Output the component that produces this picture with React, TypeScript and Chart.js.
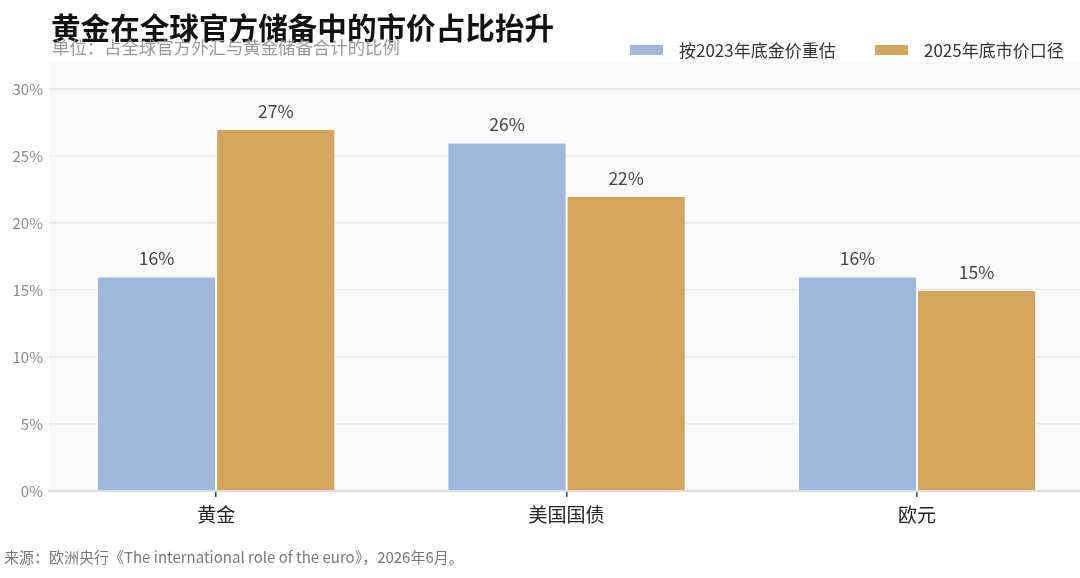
import { useEffect, useRef } from "react";
import { Chart, registerables } from "chart.js";

Chart.register(...registerables);

const categories = ["黄金", "美国国债", "欧元"];
const seriesNames = ["按2023年底金价重估", "2025年底市价口径"];
const revalued2023 = [16, 26, 16];
const market2025 = [27, 22, 15];
const yTicks = [0, 5, 10, 15, 20, 25, 30];

const BLUE = "#9fb7da";
const GOLD = "#d4a55c";
const FONT = '"Noto Sans CJK SC", "Noto Sans", sans-serif';
// edge padding of the category axis, in categories (a bit less than the usual 0.5)
const EDGE_L = 0.477;
const EDGE_R = 0.465;

const plotBg = {
  id: "plotBg",
  beforeDraw(chart: Chart) {
    const { ctx, chartArea: a } = chart;
    ctx.save();
    ctx.fillStyle = "#f9f9f9";
    ctx.fillRect(a.left, a.top, a.right - a.left, a.bottom - a.top);
    ctx.restore();
  },
};

const valueLabels = {
  id: "valueLabels",
  afterDatasetsDraw(chart: Chart) {
    const { ctx } = chart;
    ctx.save();
    ctx.font = `17.5px ${FONT}`;
    ctx.fillStyle = "#444";
    ctx.textAlign = "center";
    ctx.textBaseline = "bottom";
    chart.data.datasets.forEach((ds, i) => {
      chart.getDatasetMeta(i).data.forEach((bar: any, j) => {
        ctx.fillText(`${ds.data[j]}%`, bar.x, bar.y - 9);
      });
    });
    ctx.restore();
  },
};

export default function App() {
  const canvasRef = useRef<HTMLCanvasElement | null>(null);
  const chartRef = useRef<Chart | null>(null);

  useEffect(() => {
    if (!canvasRef.current) return;
    chartRef.current = new Chart(canvasRef.current, {
      type: "bar",
      data: {
        labels: categories,
        datasets: [
          {
            label: seriesNames[0],
            data: revalued2023,
            backgroundColor: BLUE,
            borderColor: "#ffffff",
            borderWidth: 1,
            categoryPercentage: 0.68,
            barPercentage: 1,
          },
          {
            label: seriesNames[1],
            data: market2025,
            backgroundColor: GOLD,
            borderColor: "#ffffff",
            borderWidth: 1,
            categoryPercentage: 0.68,
            barPercentage: 1,
          },
        ],
      },
      options: {
        animation: false,
        responsive: true,
        maintainAspectRatio: false,
        layout: { padding: { top: 62, right: 0, left: 0, bottom: 0 } },
        plugins: {
          legend: { display: false },
          tooltip: { enabled: false },
        },
        scales: {
          x: {
            grid: {
              display: true,
              drawOnChartArea: false,
              drawTicks: true,
              tickLength: 6,
              offset: false,
              color: "#444",
              lineWidth: 1.5,
            },
            border: { color: "#dcdcdc", width: 2 },
            ticks: { color: "#222", font: { family: FONT, size: 19 }, padding: 6 },
            afterBuildTicks: (s: any) => {
              s._startValue = -EDGE_L;
              s._valueRange = categories.length - 1 + EDGE_L + EDGE_R;
            },
            afterFit: (s: any) => {
              s.height = 87;
            },
          },
          y: {
            min: 0,
            max: 32,
            z: 1,
            ticks: {
              stepSize: 5,
              color: "#888",
              font: { family: FONT, size: 15 },
              padding: 6,
              callback: (v: any) => `${v}%`,
            },
            afterBuildTicks: (s: any) => {
              s.ticks = yTicks.map((v) => ({ value: v }));
            },
            afterFit: (s: any) => {
              s.width = 49;
            },
            grid: { color: "rgba(228,228,228,0.85)", lineWidth: 1.5, drawTicks: false },
            border: { display: false },
          },
        },
      },
      plugins: [plotBg, valueLabels],
    });
    return () => {
      chartRef.current?.destroy();
      chartRef.current = null;
    };
  }, []);

  const legendItem = (color: string, text: string, left: number, textLeft: number) => (
    <>
      <div style={{ position: "absolute", left, top: 45, width: 33, height: 10, background: color }} />
      <div style={{ position: "absolute", left: textLeft, top: 38, fontSize: 17, lineHeight: "24px", color: "#333" }}>
        {text}
      </div>
    </>
  );

  return (
    <div
      style={{
        position: "fixed",
        left: 0,
        top: 0,
        width: 1080,
        height: 578,
        overflow: "hidden",
        background: "#fff",
        fontFamily: FONT,
      }}
    >
      <div style={{ position: "absolute", left: 0, top: 0, width: 1080, height: 578 }}>
        <canvas ref={canvasRef} />
      </div>
      <div style={{ position: "absolute", left: 51, top: 10, fontSize: 29.6, fontWeight: 700, lineHeight: "34px", color: "#111" }}>
        黄金在全球官方储备中的市价占比抬升
      </div>
      <div style={{ position: "absolute", left: 52, top: 36, fontSize: 17.4, lineHeight: "22px", color: "#999" }}>
        单位：占全球官方外汇与黄金储备合计的比例
      </div>
      {legendItem(BLUE, seriesNames[0], 630, 679)}
      {legendItem(GOLD, seriesNames[1], 875, 924)}
      <div style={{ position: "absolute", left: 4, top: 546, fontSize: 15, lineHeight: "22px", color: "#777" }}>
        来源：欧洲央行《The international role of the euro》，2026年6月。
      </div>
    </div>
  );
}
